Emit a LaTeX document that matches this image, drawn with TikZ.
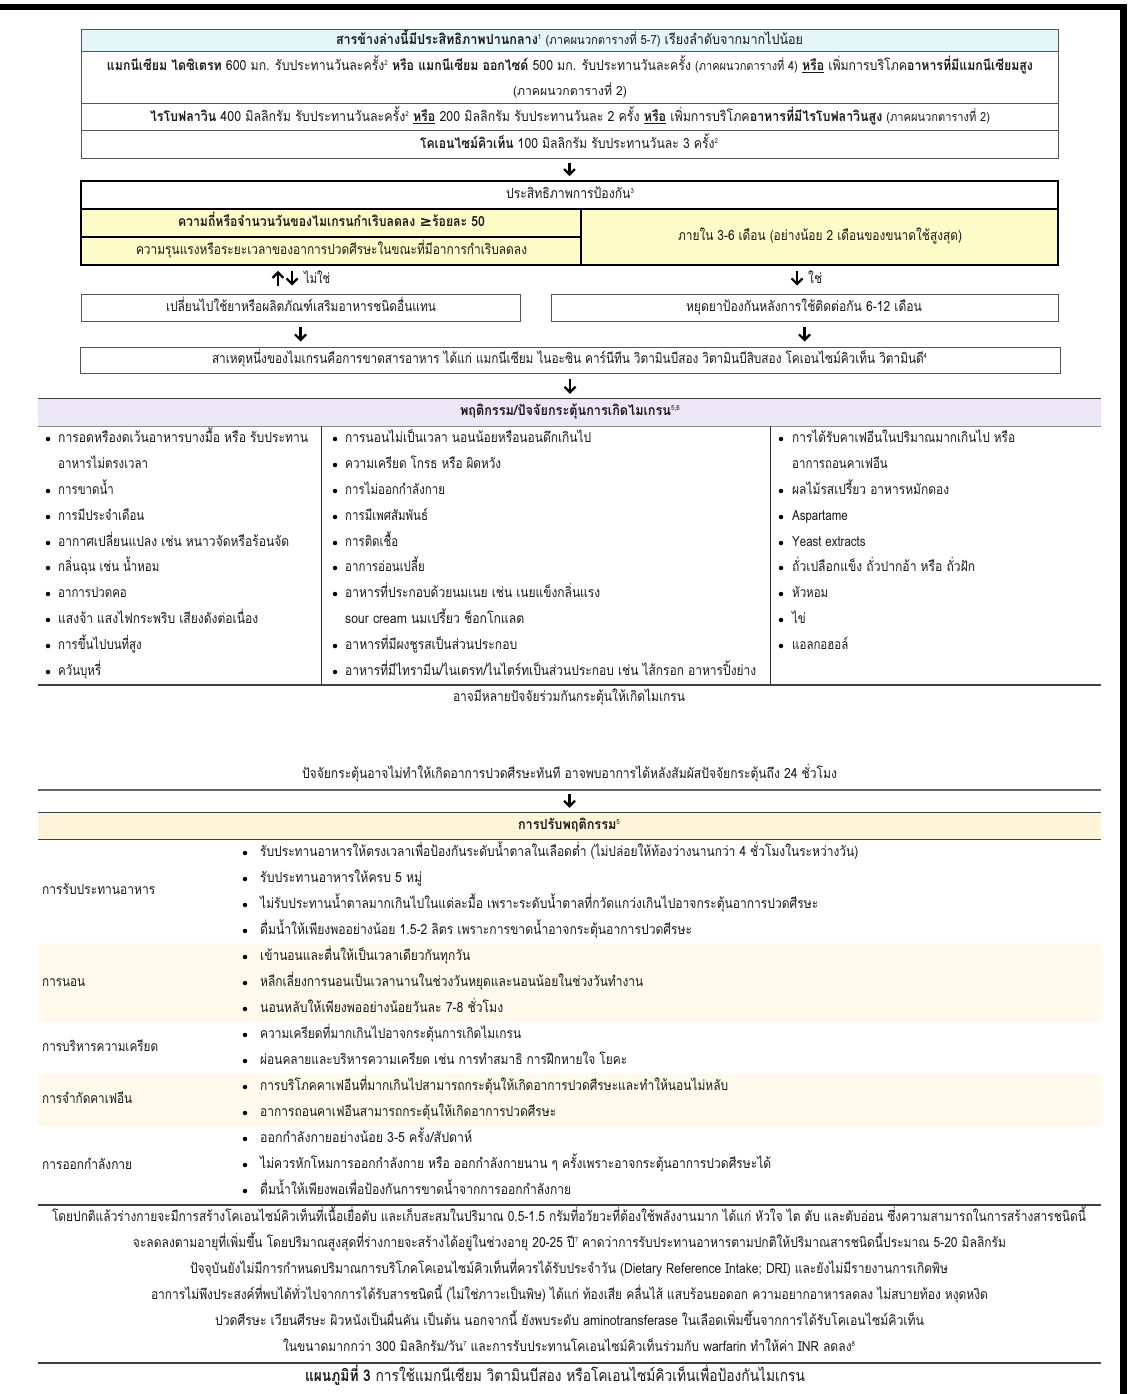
\documentclass[tikz,border=0pt]{standalone}
\usepackage{fontspec}
\setmainfont[Script=Thai, FakeStretch=0.82]{Loma}
\newfontfamily\symf{DejaVu Sans}
\usetikzlibrary{arrows.meta}

\definecolor{cyanbg}{RGB}{228,246,248}
\definecolor{yelbg}{RGB}{253,251,200}
\definecolor{lavbg}{RGB}{236,231,246}
\definecolor{hdrcream}{RGB}{253,244,218}
\definecolor{rowcream}{RGB}{255,250,236}
\definecolor{cellline}{RGB}{85,85,85}
\definecolor{ink}{RGB}{25,25,25}

% stretch a line of text horizontally to a given width (pt), keeping its height
\newlength\fitlen
\newcommand\fitto[2]{\settowidth\fitlen{#2}\pgfmathsetmacro\fitfac{#1/\fitlen}\scalebox{\fitfac}[1]{#2}}
\newcommand\sps[1]{\raisebox{5pt}{\fontsize{7}{8}\selectfont #1}}
\newcommand\parsz{\fontsize{12.5}{14}\selectfont}
\newcommand\ubf[1]{\underline{\textbf{#1}}}

\begin{document}
\begin{tikzpicture}[x=1pt,y=-1pt,
  font=\fontsize{14}{16}\selectfont, text=ink,
  t/.style={inner sep=0pt, text height=8.5pt, text depth=1pt, anchor=west},
  tc/.style={inner sep=0pt, text height=8.5pt, text depth=1pt},
  cell/.style={draw=cellline, line width=1pt, inner sep=0pt},
  heavy/.style={draw=black, line width=1.8pt, inner sep=0pt, fill=yelbg},
  arr/.style={line width=2.2pt, draw=black, -{Straight Barb[length=5.5pt,width=11pt,line width=2.2pt]}},
  dot/.style={circle, fill=black, inner sep=0pt, minimum size=4.5pt},
  rule/.style={draw=black!75, line width=1.2pt},
  lite/.style={draw=black!45, line width=1pt},
]
\useasboundingbox (0,0) rectangle (1127,1394);

% page frame
\fill[black] (0,4) rectangle (1127,10);
\fill[black] (1120,4) rectangle (1127,1394);

% ---------- supplements table ----------
\node[cell, fill=cyanbg, minimum width=977, minimum height=22] (r1) at (569.5,41) {};
\node[cell, minimum width=977, minimum height=52] (r2) at (569.5,78) {};
\node[cell, minimum width=977, minimum height=27] (r3) at (569.5,117.5) {};
\node[cell, minimum width=977, minimum height=27] (r4) at (569.5,144.5) {};

\node[tc] (r1t) at (569.5,41) {\fitto{467}{\textbf{สารข้างล่างนี้มีประสิทธิภาพปานกลาง}\sps{1} {\parsz (ภาคผนวกตารางที่ 5-7)} เรียงลำดับจากมากไปน้อย}};
\node[tc] (r2t) at (570,67) {\fitto{926}{\textbf{แมกนีเซียม ไดซิเตรท} 600 มก. รับประทานวันละครั้ง\sps{2} \textbf{หรือ แมกนีเซียม ออกไซด์} 500 มก. รับประทานวันละครั้ง {\parsz (ภาคผนวกตารางที่ 4)} \ubf{หรือ} เพิ่มการบริโภค\textbf{อาหารที่มีแมกนีเซียมสูง}}};
\node[tc] (r2u) at (570,92) {\fitto{114}{\parsz (ภาคผนวกตารางที่ 2)}};
\node[tc] (r3t) at (570,118) {\fitto{840}{\textbf{ไรโบฟลาวิน} 400 มิลลิกรัม รับประทานวันละครั้ง\sps{2} \ubf{หรือ} 200 มิลลิกรัม รับประทานวันละ 2 ครั้ง \ubf{หรือ} เพิ่มการบริโภค\textbf{อาหารที่มีไรโบฟลาวินสูง} {\parsz (ภาคผนวกตารางที่ 2)}}};
\node[tc] (r4t) at (569,145) {\fitto{298}{\textbf{โคเอนไซม์คิวเท็น} 100 มิลลิกรัม รับประทานวันละ 3 ครั้ง\sps{2}}};

% ---------- efficacy check ----------
\node[heavy, fill=white, minimum width=977, minimum height=28] (eff) at (569.5,195) {};
\node[heavy, minimum width=500, minimum height=28] (yl1) at (331,223) {};
\node[heavy, minimum width=500, minimum height=28] (yl2) at (331,251) {};
\node[heavy, minimum width=477, minimum height=56] (yr) at (819.5,237) {};
\node[tc] (efft) at (570,195) {\fitto{128}{ประสิทธิภาพการป้องกัน\sps{3}}};
\node[tc] (yl1t) at (331.5,223) {\fitto{307}{\textbf{ความถี่หรือจำนวนวันของไมเกรนกำเริบลดลง {\symf ≥}ร้อยละ 50}}};
\node[tc] (yl2t) at (331.5,251) {\fitto{391}{ความรุนแรงหรือระยะเวลาของอาการปวดศีรษะในขณะที่มีอาการกำเริบลดลง}};
\node[tc] (yrt) at (820,237) {\fitto{284}{ภายใน 3-6 เดือน (อย่างน้อย 2 เดือนของขนาดใช้สูงสุด)}};

\node[cell, minimum width=439, minimum height=27] (alt) at (300.5,307.5) {};
\node[cell, minimum width=507, minimum height=27] (stop) at (804.5,307.5) {};
\node[tc] (altt) at (301,307.5) {\fitto{270}{เปลี่ยนไปใช้ยาหรือผลิตภัณฑ์เสริมอาหารชนิดอื่นแทน}};
\node[tc] (stopt) at (804,307.5) {\fitto{236}{หยุดยาป้องกันหลังการใช้ติดต่อกัน 6-12 เดือน}};

\node[cell, minimum width=980, minimum height=26] (cause) at (570,360) {};
\node[tc] (causet) at (569.5,360) {\fitto{715}{สาเหตุหนึ่งของไมเกรนคือการขาดสารอาหาร ได้แก่ แมกนีเซียม ไนอะซิน คาร์นีทีน วิตามินบีสอง วิตามินบีสิบสอง โคเอนไซม์คิวเท็น วิตามินดี\sps{4}}};

\node[t] (nolab) at (304,280) {\fitto{26}{ไม่ใช่}};
\node[t] (yeslab) at (808,280) {\fitto{14}{ใช่}};

\coordinate (upx) at (278,0);
\coordinate (dnx) at (292,0);
\coordinate (yesx) at (797,0);

\draw[arr, shorten <=4pt, shorten >=4pt] (r4.south -| eff.north) -- (eff.north);
\draw[arr, shorten <=8pt, shorten >=5pt] (alt.north -| upx) -- (yl2.south -| upx);
\draw[arr, shorten <=5pt, shorten >=8pt] (yl2.south -| dnx) -- (alt.north -| dnx);
\draw[arr, shorten <=5pt, shorten >=8pt] (yr.south -| yesx) -- (stop.north -| yesx);
\draw[arr, shorten <=5pt, shorten >=5pt] (alt.south) -- (alt.south |- cause.north);
\draw[arr, shorten <=5pt, shorten >=5pt] (stop.south) -- (stop.south |- cause.north);

% ---------- triggers ----------
\node[fill=lavbg, inner sep=0pt, minimum width=1063, minimum height=27] (th) at (569.5,412.5) {};
\draw[rule] (th.north west) -- (th.north east);
\draw[lite] (th.south west) -- (th.south east);
\node[tc] (tht) at (570,412) {\fitto{220}{\textbf{พฤติกรรม/ปัจจัยกระตุ้นการเกิดไมเกรน}\sps{5,6}}};
\draw[arr, shorten <=5pt, shorten >=5pt] (cause.south) -- (cause.south |- th.north);

\coordinate (tbl) at (38,685);
\coordinate (tbr) at (1101,685);
\draw[line width=1pt, draw=black!80] (321,426) -- (321,685) (770,426) -- (770,685);
\draw[rule] (tbl) -- (tbr);

% left column
\node[dot] (lb1) at (48,439) {};
\node[t] (l1) at (58,439) {\fitto{250}{การอดหรืองดเว้นอาหารบางมื้อ หรือ รับประทาน}};
\node[t] (l1b) at (58,465) {อาหารไม่ตรงเวลา};
\node[dot] (lb2) at (48,491) {};
\node[t] (l2) at (58,491) {การขาดน้ำ};
\node[dot] (lb3) at (48,517) {};
\node[t] (l3) at (58,517) {การมีประจำเดือน};
\node[dot] (lb4) at (48,543) {};
\node[t] (l4) at (58,543) {\fitto{231}{อากาศเปลี่ยนแปลง เช่น หนาวจัดหรือร้อนจัด}};
\node[dot] (lb5) at (48,568) {};
\node[t] (l5) at (58,568) {กลิ่นฉุน เช่น น้ำหอม};
\node[dot] (lb6) at (48,594) {};
\node[t] (l6) at (58,594) {อาการปวดคอ};
\node[dot] (lb7) at (48,620) {};
\node[t] (l7) at (58,620) {\fitto{200}{แสงจ้า แสงไฟกระพริบ เสียงดังต่อเนื่อง}};
\node[dot] (lb8) at (48,646) {};
\node[t] (l8) at (58,646) {การขึ้นไปบนที่สูง};
\node[dot] (lb9) at (48,672) {};
\node[t] (l9) at (58,672) {ควันบุหรี่};

% middle column
\node[dot] (mb1) at (335,439) {};
\node[t] (m1) at (345,439) {\fitto{246}{การนอนไม่เป็นเวลา นอนน้อยหรือนอนดึกเกินไป}};
\node[dot] (mb2) at (335,465) {};
\node[t] (m2) at (345,465) {\fitto{156}{ความเครียด โกรธ หรือ ผิดหวัง}};
\node[dot] (mb3) at (335,491) {};
\node[t] (m3) at (345,491) {การไม่ออกกำลังกาย};
\node[dot] (mb4) at (335,517) {};
\node[t] (m4) at (345,517) {การมีเพศสัมพันธ์};
\node[dot] (mb5) at (335,543) {};
\node[t] (m5) at (345,543) {การติดเชื้อ};
\node[dot] (mb6) at (335,568) {};
\node[t] (m6) at (345,568) {อาการอ่อนเปลี้ย};
\node[dot] (mb7) at (335,594) {};
\node[t] (m7) at (345,594) {\fitto{255}{อาหารที่ประกอบด้วยนมเนย เช่น เนยแข็งกลิ่นแรง}};
\node[t] (m7b) at (345,620) {\fitto{179}{sour cream นมเปรี้ยว ช็อกโกแลต}};
\node[dot] (mb8) at (335,646) {};
\node[t] (m8) at (345,646) {\fitto{172}{อาหารที่มีผงชูรสเป็นส่วนประกอบ}};
\node[dot] (mb9) at (335,672) {};
\node[t] (m9) at (345,672) {\fitto{411}{อาหารที่มีไทรามีน/ไนเตรท/ไนไตร์ทเป็นส่วนประกอบ เช่น ไส้กรอก อาหารปิ้งย่าง}};

% right column
\node[dot] (rb1) at (781,439) {};
\node[t] (q1) at (792,439) {\fitto{223}{การได้รับคาเฟอีนในปริมาณมากเกินไป หรือ}};
\node[t] (q1b) at (792,465) {อาการถอนคาเฟอีน};
\node[dot] (rb2) at (781,491) {};
\node[t] (q2) at (792,491) {\fitto{157}{ผลไม้รสเปรี้ยว อาหารหมักดอง}};
\node[dot] (rb3) at (781,517) {};
\node[t] (q3) at (792,517) {Aspartame};
\node[dot] (rb4) at (781,543) {};
\node[t] (q4) at (792,543) {Yeast extracts};
\node[dot] (rb5) at (781,568) {};
\node[t] (q5) at (792,568) {\fitto{183}{ถั่วเปลือกแข็ง ถั่วปากอ้า หรือ ถั่วฝัก}};
\node[dot] (rb6) at (781,594) {};
\node[t] (q6) at (792,594) {หัวหอม};
\node[dot] (rb7) at (781,620) {};
\node[t] (q7) at (792,620) {ไข่};
\node[dot] (rb8) at (781,646) {};
\node[t] (q8) at (792,646) {แอลกอฮอล์};

\node[tc] (multi) at (569,698) {\fitto{232}{อาจมีหลายปัจจัยร่วมกันกระตุ้นให้เกิดไมเกรน}};
\node[tc] (delay) at (569.5,775) {\fitto{535}{ปัจจัยกระตุ้นอาจไม่ทำให้เกิดอาการปวดศีรษะทันที อาจพบอาการได้หลังสัมผัสปัจจัยกระตุ้นถึง 24 ชั่วโมง}};

% ---------- lifestyle changes ----------
\coordinate (sepl) at (38,790);
\coordinate (sepr) at (1101,790);
\draw[draw=black!60, line width=1.6pt] (sepl) -- (sepr);
\node[fill=hdrcream, inner sep=0pt, minimum width=1063, minimum height=26] (bh) at (569.5,826) {};
\draw[rule] (bh.north west) -- (bh.north east);
\draw[rule] (bh.south west) -- (bh.south east);
\node[tc] (bht) at (569,826) {\fitto{102}{\textbf{การปรับพฤติกรรม}\sps{5}}};
\draw[arr, shorten <=4pt, shorten >=5pt] (sepl -| bh.north) -- (bh.north);

\node[fill=rowcream, inner sep=0pt, minimum width=1063, minimum height=79] (rowsleep) at (569.5,982.5) {};
\node[fill=rowcream, inner sep=0pt, minimum width=1063, minimum height=52] (rowcaf) at (569.5,1100) {};

\node[t] (lfood) at (42,891) {\fitto{113}{การรับประทานอาหาร}};
\node[t] (lsleep) at (42,983) {\fitto{43}{การนอน}};
\node[t] (lstress) at (42,1048) {\fitto{116}{การบริหารความเครียด}};
\node[t] (lcaf) at (42,1100) {\fitto{90}{การจำกัดคาเฟอีน}};
\node[t] (lex) at (42,1166) {\fitto{90}{การออกกำลังกาย}};

\node[dot] (fb1) at (245,853) {};
\node[t] (f1) at (260,853) {\fitto{598}{รับประทานอาหารให้ตรงเวลาเพื่อป้องกันระดับน้ำตาลในเลือดต่ำ (ไม่ปล่อยให้ท้องว่างนานกว่า 4 ชั่วโมงในระหว่างวัน)}};
\node[dot] (fb2) at (245,879) {};
\node[t] (f2) at (260,879) {\fitto{162}{รับประทานอาหารให้ครบ 5 หมู่}};
\node[dot] (fb3) at (245,905) {};
\node[t] (f3) at (260,905) {\fitto{558}{ไม่รับประทานน้ำตาลมากเกินไปในแต่ละมื้อ เพราะระดับน้ำตาลที่กวัดแกว่งเกินไปอาจกระตุ้นอาการปวดศีรษะ}};
\node[dot] (fb4) at (245,931) {};
\node[t] (f4) at (260,931) {\fitto{432}{ดื่มน้ำให้เพียงพออย่างน้อย 1.5-2 ลิตร เพราะการขาดน้ำอาจกระตุ้นอาการปวดศีรษะ}};

\node[dot] (sb1) at (245,957) {};
\node[t] (s1) at (260,957) {\fitto{210}{เข้านอนและตื่นให้เป็นเวลาเดียวกันทุกวัน}};
\node[dot] (sb2) at (245,983) {};
\node[t] (s2) at (260,983) {\fitto{383}{หลีกเลี่ยงการนอนเป็นเวลานานในช่วงวันหยุดและนอนน้อยในช่วงวันทำงาน}};
\node[dot] (sb3) at (245,1009) {};
\node[t] (s3) at (260,1009) {\fitto{243}{นอนหลับให้เพียงพออย่างน้อยวันละ 7-8 ชั่วโมง}};

\node[dot] (tb1) at (245,1035) {};
\node[t] (st1) at (260,1035) {\fitto{261}{ความเครียดที่มากเกินไปอาจกระตุ้นการเกิดไมเกรน}};
\node[dot] (tb2) at (245,1061) {};
\node[t] (st2) at (260,1061) {\fitto{367}{ผ่อนคลายและบริหารความเครียด เช่น การทำสมาธิ การฝึกหายใจ โยคะ}};

\node[dot] (cb1) at (245,1087) {};
\node[t] (c1) at (260,1087) {\fitto{468}{การบริโภคคาเฟอีนที่มากเกินไปสามารถกระตุ้นให้เกิดอาการปวดศีรษะและทำให้นอนไม่หลับ}};
\node[dot] (cb2) at (245,1113) {};
\node[t] (c2) at (260,1113) {\fitto{296}{อาการถอนคาเฟอีนสามารถกระตุ้นให้เกิดอาการปวดศีรษะ}};

\node[dot] (eb1) at (245,1139) {};
\node[t] (e1) at (260,1139) {\fitto{212}{ออกกำลังกายอย่างน้อย 3-5 ครั้ง/สัปดาห์}};
\node[dot] (eb2) at (245,1165) {};
\node[t] (e2) at (260,1165) {\fitto{511}{ไม่ควรหักโหมการออกกำลังกาย หรือ ออกกำลังกายนาน ๆ ครั้งเพราะอาจกระตุ้นอาการปวดศีรษะได้}};
\node[dot] (eb3) at (245,1191) {};
\node[t] (e3) at (260,1191) {\fitto{311}{ดื่มน้ำให้เพียงพอเพื่อป้องกันการขาดน้ำจากการออกกำลังกาย}};

\draw[rule] (38,1205) -- (1101,1205);

% ---------- notes on coenzyme Q10 ----------
\node[tc] (n1) at (569,1218) {\fitto{1034}{โดยปกติแล้วร่างกายจะมีการสร้างโคเอนไซม์คิวเท็นที่เนื้อเยื่อตับ และเก็บสะสมในปริมาณ 0.5-1.5 กรัมที่อวัยวะที่ต้องใช้พลังงานมาก ได้แก่ หัวใจ ไต ตับ และตับอ่อน ซึ่งความสามารถในการสร้างสารชนิดนี้}};
\node[tc] (n2) at (569.5,1244) {\fitto{873}{จะลดลงตามอายุที่เพิ่มขึ้น โดยปริมาณสูงสุดที่ร่างกายจะสร้างได้อยู่ในช่วงอายุ 20-25 ปี\sps{7} คาดว่าการรับประทานอาหารตามปกติให้ปริมาณสารชนิดนี้ประมาณ 5-20 มิลลิกรัม}};
\node[tc] (n3) at (569,1270) {\fitto{758}{ปัจจุบันยังไม่มีการกำหนดปริมาณการบริโภคโคเอนไซม์คิวเท็นที่ควรได้รับประจำวัน (Dietary Reference Intake; DRI) และยังไม่มีรายงานการเกิดพิษ}};
\node[tc] (n4) at (569.5,1296) {\fitto{837}{อาการไม่พึงประสงค์ที่พบได้ทั่วไปจากการได้รับสารชนิดนี้ (ไม่ใช่ภาวะเป็นพิษ) ได้แก่ ท้องเสีย คลื่นไส้ แสบร้อนยอดอก ความอยากอาหารลดลง ไม่สบายท้อง หงุดหงิด}};
\node[tc] (n5) at (569.5,1322) {\fitto{709}{ปวดศีรษะ เวียนศีรษะ ผิวหนังเป็นผื่นคัน เป็นต้น นอกจากนี้ ยังพบระดับ aminotransferase ในเลือดเพิ่มขึ้นจากการได้รับโคเอนไซม์คิวเท็น}};
\node[tc] (n6) at (569,1348) {\fitto{572}{ในขนาดมากกว่า 300 มิลลิกรัม/วัน\sps{7} และการรับประทานโคเอนไซม์คิวเท็นร่วมกับ warfarin ทำให้ค่า INR ลดลง\sps{8}}};

\draw[rule] (38,1363) -- (1101,1363);
\node[tc, font=\fontsize{16}{18}\selectfont] (cap) at (555,1378) {\fitto{500}{\textbf{แผนภูมิที่ 3} การใช้แมกนีเซียม วิตามินบีสอง หรือโคเอนไซม์คิวเท็นเพื่อป้องกันไมเกรน}};
\end{tikzpicture}
\end{document}
